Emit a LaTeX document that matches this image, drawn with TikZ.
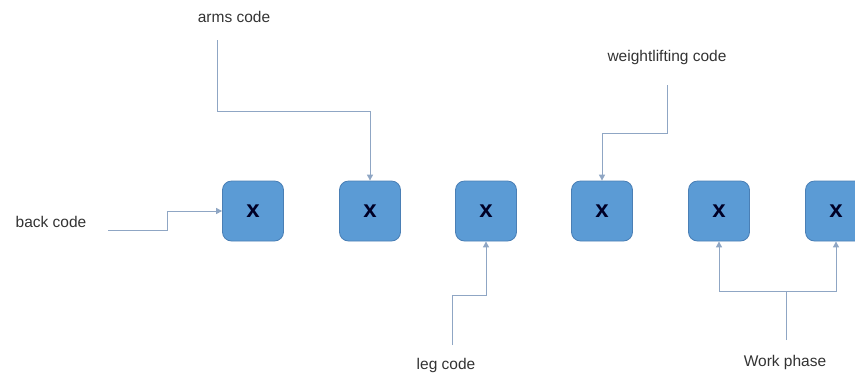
\documentclass[tikz,border=0pt]{standalone}
\usepackage{fontspec}
\setmainfont{Liberation Sans}
\usetikzlibrary{arrows.meta}
\definecolor{boxfill}{HTML}{5B9BD5}
\definecolor{boxedge}{HTML}{4A7FB5}
\definecolor{conncol}{HTML}{8FA6C4}
\definecolor{txtcol}{HTML}{333333}
\tikzset{
  codebox/.style={draw=boxedge, fill=boxfill, line width=0.8pt, rounded corners=9pt,
    minimum width=61pt, minimum height=60pt, inner sep=0pt,
    font=\fontsize{24}{26}\selectfont\bfseries, text=black!85!blue},
  lbl/.style={font=\fontsize{15.5}{18}\selectfont, text=txtcol, inner sep=0pt},
  conn/.style={draw=conncol, line width=1pt, -{Triangle[length=6pt,width=6pt]}}
}
\begin{document}
\begin{tikzpicture}[x=1pt,y=-1pt]
\useasboundingbox (0,0) rectangle (855,376);
\clip (0,0) rectangle (855,376);
\node[codebox] (b1) at (253,211) {x};
\node[codebox] (b2) at (370,211) {x};
\node[codebox] (b3) at (486,211) {x};
\node[codebox] (b4) at (602,211) {x};
\node[codebox] (b5) at (719,211) {x};
\node[codebox] (b6) at (836,211) {x};
\node[lbl] (back) at (51,222) {back code};
\node[lbl] (arms) at (234,17) {arms code};
\node[lbl] (leg) at (446,365) {leg code};
\node[lbl] (wl) at (667,57) {weightlifting code};
\node[lbl] (work) at (785,362) {Work phase};
\coordinate (c0) at (108,230);
\coordinate (c1) at (167,230);
\coordinate (a0) at (217,40);
\coordinate (a1) at (217,111);
\coordinate (l0) at (452,345);
\coordinate (l1) at (452,295);
\coordinate (g0) at (667,85);
\coordinate (g1) at (667,133);
\coordinate (p0) at (786,340);
\coordinate (p1) at (786,291);
\draw[conn] (c0) -- (c1) |- (b1.west);
\draw[conn] (a0) -- (a1) -| (b2.north);
\draw[conn] (l0) -- (l1) -| (b3.south);
\draw[conn] (g0) -- (g1) -| (b4.north);
\draw[draw=conncol, line width=1pt] (p0) -- (p1);
\draw[conn] (p1) -| (b5.south);
\draw[conn] (p1) -| (b6.south);
\end{tikzpicture}
\end{document}
